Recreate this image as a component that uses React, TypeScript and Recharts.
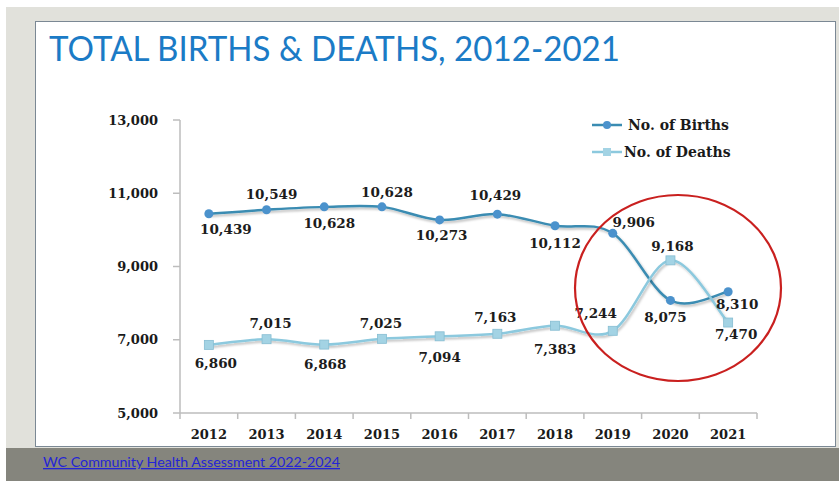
import { LineChart, Line, XAxis, YAxis, Legend, LabelList } from 'recharts';

const years = [2012, 2013, 2014, 2015, 2016, 2017, 2018, 2019, 2020, 2021];
const births = [10439, 10549, 10628, 10628, 10273, 10429, 10112, 9906, 8075, 8310];
const deaths = [6860, 7015, 6868, 7025, 7094, 7163, 7383, 7244, 9168, 7470];
const yTicks = [5000, 7000, 9000, 11000, 13000];

// label nudges (px) relative to each point, as placed on the slide
const birthsNudgeX = [17, 5, 5, 5, 2, -2, 0, 21, -5, 9];
const birthsNudgeY = [15, -16, 16, -15, 15, -19, 17, -11, 17, 12];
const deathsNudgeX = [7, 4, 1, -1, 0, -2, 0, -17, 2, 8];
const deathsNudgeY = [18, -16, 19, -16, 21, -17, 23, -18, -14, 11];

const data = years.map((year, i) => ({ year, births: births[i], deaths: deaths[i] }));

// ticks between the years for the little category separators
const xTicks = years.flatMap((y) => [y - 0.5, y]).concat(years[years.length - 1] + 0.5);

const BIRTH_LINE = '#3a8cb2';
const BIRTH_DOT = '#4b92cc';
const DEATH_LINE = '#8cc9de';
const DEATH_DOT = '#a3d3e4';
const AXIS = '#bdbdbd';
const NUM_FONT = '"DejaVu Serif", serif';

const fmt = (v: number) => v.toLocaleString('en-US');

// excel-like smoothed line
const smoothCurve = (context: any) => {
  let pts: number[][] = [];
  return {
    areaStart() {},
    areaEnd() {},
    lineStart() {
      pts = [];
    },
    point(x: number, y: number) {
      pts.push([+x, +y]);
    },
    lineEnd() {
      if (!pts.length) return;
      context.moveTo(pts[0][0], pts[0][1]);
      for (let i = 0; i < pts.length - 1; i++) {
        const p0 = pts[i - 1] || pts[i];
        const p1 = pts[i];
        const p2 = pts[i + 1];
        const p3 = pts[i + 2] || p2;
        context.bezierCurveTo(
          p1[0] + (p2[0] - p0[0]) / 6,
          p1[1] + (p2[1] - p0[1]) / 6,
          p2[0] - (p3[0] - p1[0]) / 6,
          p2[1] - (p3[1] - p1[1]) / 6,
          p2[0],
          p2[1]
        );
      }
    },
  };
};

const XTick = ({ x, y, payload }: any) => {
  const v = payload.value;
  if (Number.isInteger(v)) {
    return (
      <text x={x} y={y + 21} textAnchor="middle" dominantBaseline="central"
        fontFamily={NUM_FONT} fontWeight="bold" fontSize={13} fill="#1a1a1a">
        {v}
      </text>
    );
  }
  return <line x1={x} x2={x} y1={y} y2={y + 6} stroke={AXIS} strokeWidth={1.5} />;
};

const makeLabel = (nx: number[], ny: number[]) => (props: any) => {
  const { x, y, value, index } = props;
  return (
    <text x={x + nx[index]} y={y + ny[index]} textAnchor="middle" dominantBaseline="central"
      fontFamily={NUM_FONT} fontWeight="bold" fontSize={13.5} fill="#1c1c1c">
      {fmt(value)}
    </text>
  );
};

const BirthDot = ({ cx, cy }: any) => <circle cx={cx} cy={cy} r={4.5} fill={BIRTH_DOT} />;
const DeathDot = ({ cx, cy }: any) => (
  <rect x={cx - 4.5} y={cy - 4.5} width={9} height={9} fill={DEATH_DOT} stroke="#86bdd2" strokeWidth={0.8} />
);

const LegendBox = () => (
  <div style={{ fontFamily: NUM_FONT, fontWeight: 'bold', fontSize: 14, color: '#1a1a1a' }}>
    <div style={{ display: 'flex', alignItems: 'center', height: 27 }}>
      <svg width={30} height={12} style={{ marginRight: 6 }}>
        <line x1={0} x2={30} y1={6} y2={6} stroke={BIRTH_LINE} strokeWidth={2.5} />
        <circle cx={15} cy={6} r={4} fill={BIRTH_DOT} />
      </svg>
      No. of Births
    </div>
    <div style={{ display: 'flex', alignItems: 'center', height: 27 }}>
      <svg width={30} height={12} style={{ marginRight: 2 }}>
        <line x1={0} x2={30} y1={6} y2={6} stroke={DEATH_LINE} strokeWidth={2.5} />
        <rect x={11} y={2} width={8} height={8} fill={DEATH_DOT} />
      </svg>
      No. of Deaths
    </div>
  </div>
);

export default function App() {
  return (
    <div style={{ position: 'relative', width: 839, height: 481, background: '#ffffff', overflow: 'hidden' }}>
      <style>{`body{margin:0} .recharts-line-curve{filter:url(#lineShadow)}`}</style>
      <div style={{ position: 'absolute', left: 6, top: 7, width: 833, height: 474, background: '#e1e1db' }} />
      <div style={{ position: 'absolute', left: 35, top: 21, width: 799, height: 424, background: '#fff', border: '1.5px solid #7b8894' }} />
      <div style={{ position: 'absolute', left: 6, top: 448, width: 833, height: 33, background: '#85857d' }} />

      <div style={{ position: 'absolute', left: 0, top: 0 }}>
        <LineChart width={839} height={481} data={data} margin={{ top: 120, right: 82, bottom: 38, left: 120 }}>
          <defs>
            <filter id="lineShadow" x="-5%" y="-20%" width="110%" height="140%">
              <feDropShadow dx={1.5} dy={2} stdDeviation={1.2} floodColor="#000" floodOpacity={0.25} />
            </filter>
          </defs>
          <XAxis dataKey="year" type="number" domain={[2011.5, 2021.5]} ticks={xTicks} interval={0}
            tickLine={false} tickSize={0} tickMargin={0} height={30} tick={<XTick />}
            axisLine={{ stroke: AXIS, strokeWidth: 1.5 }} />
          <YAxis domain={[5000, 13000]} ticks={yTicks} width={60} tickSize={7} tickMargin={15}
            tickFormatter={fmt} axisLine={{ stroke: AXIS, strokeWidth: 1.5 }} tickLine={{ stroke: AXIS, strokeWidth: 1.5 }}
            tick={{ fontFamily: NUM_FONT, fontWeight: 'bold', fontSize: 13, fill: '#1a1a1a' }} />
          <Legend layout="horizontal" verticalAlign="middle" align="center" content={() => <LegendBox />}
            wrapperStyle={{ top: 111, left: 592, width: 'auto', height: 'auto' }} />
          <Line dataKey="births" name="No. of Births" type={smoothCurve as any} stroke={BIRTH_LINE} strokeWidth={2.5}
            dot={<BirthDot />} activeDot={false} isAnimationActive={false}>
            <LabelList dataKey="births" content={makeLabel(birthsNudgeX, birthsNudgeY)} />
          </Line>
          <Line dataKey="deaths" name="No. of Deaths" type={smoothCurve as any} stroke={DEATH_LINE} strokeWidth={2.5}
            dot={<DeathDot />} activeDot={false} isAnimationActive={false}>
            <LabelList dataKey="deaths" content={makeLabel(deathsNudgeX, deathsNudgeY)} />
          </Line>
        </LineChart>
      </div>

      <svg width={839} height={481} style={{ position: 'absolute', left: 0, top: 0, pointerEvents: 'none' }}>
        <text x={49} y={61} fontFamily="Lato, 'Open Sans', sans-serif" fontSize={35} fill="#1b7bc6"
          textLength={571} lengthAdjust="spacingAndGlyphs">
          TOTAL BIRTHS &amp; DEATHS, 2012-2021
        </text>
        <ellipse cx={678} cy={288} rx={103} ry={93} fill="none" stroke="#c9201f" strokeWidth={2.2} />
        <text x={43} y={467} fontFamily="Lato, 'Open Sans', sans-serif" fontSize={13} fill="#2424d6"
          textLength={297} lengthAdjust="spacingAndGlyphs" textDecoration="underline">
          WC Community Health Assessment 2022-2024
        </text>
      </svg>
    </div>
  );
}
